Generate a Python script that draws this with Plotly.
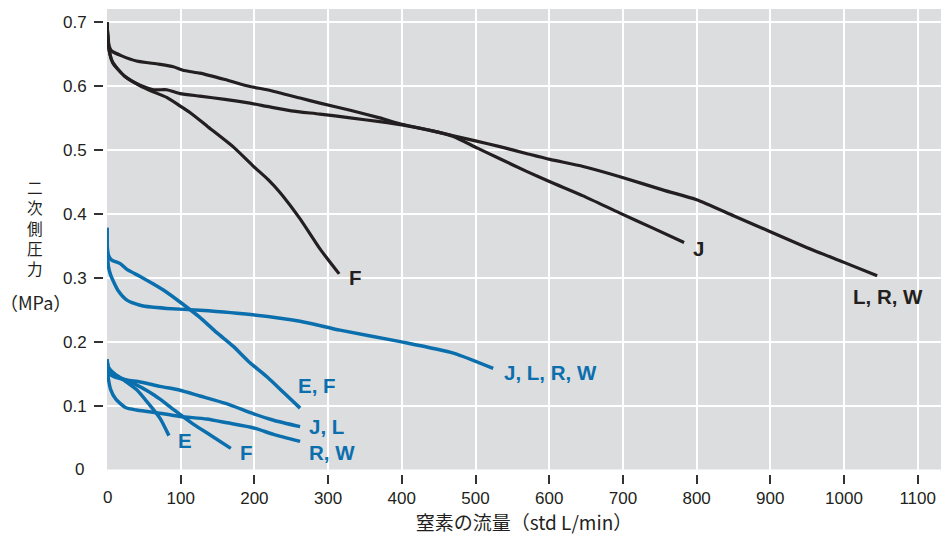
import plotly.graph_objects as go

# ---------------- data ----------------
# black curves (higher pressure setting)
blk_F_x = [0, 1, 3, 8, 24, 45, 60, 81, 100, 113, 136, 171, 198, 220, 235, 262, 289, 315]
blk_F_y = [0.700, 0.680, 0.655, 0.636, 0.615, 0.600, 0.592, 0.582, 0.568, 0.558, 0.537, 0.505, 0.475, 0.452, 0.433, 0.392, 0.345, 0.306]

blk_J_x = [0, 1, 3, 8, 24, 45, 63, 81, 99, 126, 160, 194, 217, 250, 289, 330, 370, 400, 440, 470, 502, 533, 570, 601, 646, 696, 740, 783]
blk_J_y = [0.700, 0.680, 0.655, 0.636, 0.615, 0.601, 0.594, 0.594, 0.588, 0.584, 0.579, 0.573, 0.568, 0.561, 0.556, 0.550, 0.544, 0.539, 0.530, 0.521, 0.503, 0.486, 0.466, 0.450, 0.428, 0.401, 0.378, 0.355]

blk_LRW_x = [0, 1, 3, 6, 20, 40, 70, 90, 105, 126, 160, 194, 217, 262, 289, 330, 370, 400, 440, 470, 500, 533, 570, 601, 646, 696, 755, 800, 850, 900, 950, 1000, 1045]
blk_LRW_y = [0.700, 0.680, 0.662, 0.655, 0.647, 0.639, 0.634, 0.630, 0.624, 0.620, 0.610, 0.599, 0.594, 0.581, 0.573, 0.562, 0.550, 0.540, 0.530, 0.522, 0.514, 0.505, 0.494, 0.485, 0.474, 0.458, 0.437, 0.422, 0.397, 0.372, 0.347, 0.324, 0.303]

# blue curves, upper group
blu_EF_hi_x = [0, 0.5, 2, 6, 18, 27, 45, 63, 80, 99, 126, 149, 171, 194, 217, 240, 262]
blu_EF_hi_y = [0.378, 0.345, 0.335, 0.328, 0.322, 0.313, 0.302, 0.290, 0.278, 0.262, 0.238, 0.214, 0.193, 0.167, 0.145, 0.120, 0.096]

blu_JLRW_hi_x = [0, 0.5, 2, 5, 8, 15, 27, 45, 60, 81, 126, 198, 262, 316, 398, 470, 524]
blu_JLRW_hi_y = [0.378, 0.345, 0.317, 0.304, 0.296, 0.280, 0.265, 0.257, 0.254, 0.252, 0.249, 0.242, 0.232, 0.218, 0.200, 0.182, 0.158]

# blue curves, lower group
blu_E_x = [0, 2, 10, 25, 40, 55, 72, 84]
blu_E_y = [0.172, 0.160, 0.150, 0.138, 0.125, 0.105, 0.080, 0.053]

blu_F_x = [0, 3, 15, 35, 58, 72, 90, 117, 140, 168]
blu_F_y = [0.172, 0.155, 0.145, 0.135, 0.121, 0.110, 0.094, 0.071, 0.054, 0.033]

blu_JL_x = [0, 2, 10, 27, 45, 72, 99, 126, 162, 199, 226, 262]
blu_JL_y = [0.172, 0.150, 0.145, 0.140, 0.137, 0.130, 0.124, 0.115, 0.103, 0.087, 0.077, 0.067]

blu_RW_x = [0, 1, 5, 12, 25, 40, 60, 99, 135, 163, 199, 226, 262]
blu_RW_y = [0.172, 0.150, 0.125, 0.110, 0.097, 0.093, 0.090, 0.083, 0.079, 0.073, 0.065, 0.055, 0.044]

# curve labels: text, x, y, colour group
label_text = ["F", "J", "L, R, W", "J, L, R, W", "E, F", "J, L", "R, W", "E", "F"]
label_x = [326, 792, 1009, 536, 257, 272, 272, 93, 178]
label_y = [0.301, 0.345, 0.271, 0.151, 0.131, 0.0665, 0.027, 0.045, 0.026]
label_grp = ["k", "k", "k", "b", "b", "b", "b", "b", "b"]

# ticks (the reference has no tick mark at the origin; its shared "0" labels are added separately)
x_tick_vals = list(range(100, 1101, 100))
y_tick_vals = [0.1, 0.2, 0.3, 0.4, 0.5, 0.6, 0.7]
y_tick_text = ["0.1", "0.2", "0.3", "0.4", "0.5", "0.6", "0.7"]
origin_label = "0"

x_title = "窒素の流量（std L/min）"
y_title_chars = ["二", "次", "側", "圧", "力"]
y_title_unit = "（MPa）"

# ---------------- styling ----------------
BLACK = "#231f20"
BLUE = "#0b6fae"
TICK = "#333333"
FONT = "Liberation Sans, Arial, sans-serif"
CJK = "Noto Sans CJK JP, sans-serif"

W, H = 941, 537
ML, MR, MT, MB = 103, 0, 9, 63
PW, PH = W - ML - MR, H - MT - MB
x_dom0 = 4 / PW
y_dom0 = 4.5 / PH
XR = [0, 1131.6]
YR = [0, 0.7203]

fig = go.Figure()

black_series = [(blk_F_x, blk_F_y), (blk_J_x, blk_J_y), (blk_LRW_x, blk_LRW_y)]
blue_series = [(blu_EF_hi_x, blu_EF_hi_y), (blu_JLRW_hi_x, blu_JLRW_hi_y),
               (blu_E_x, blu_E_y), (blu_F_x, blu_F_y), (blu_JL_x, blu_JL_y), (blu_RW_x, blu_RW_y)]

for xs, ys in blue_series:
    fig.add_trace(go.Scatter(x=xs, y=ys, mode="lines", line=dict(color=BLUE, width=3.5, shape="spline", smoothing=0.6),
                             showlegend=False, hoverinfo="skip"))
for xs, ys in black_series:
    fig.add_trace(go.Scatter(x=xs, y=ys, mode="lines", line=dict(color=BLACK, width=3.2, shape="spline", smoothing=0.6),
                             showlegend=False, hoverinfo="skip"))

for t, x, y, g in zip(label_text, label_x, label_y, label_grp):
    fig.add_annotation(x=x, y=y, xref="x", yref="y", text="<b>%s</b>" % t, showarrow=False,
                       xanchor="left", yanchor="middle",
                       font=dict(family=FONT, size=20.5, color=BLACK if g == "k" else BLUE))

axis_font = dict(family=FONT, size=17, color=BLACK)

# origin "0" labels for both axes (no tick mark there, as in the reference)
fig.add_annotation(x=XR[0], y=0, xref="x", yref="paper", text=origin_label, showarrow=False,
                   xanchor="center", yanchor="middle", yshift=-23, font=axis_font)
fig.add_annotation(x=0, y=YR[0], xref="paper", yref="y", text=origin_label, showarrow=False,
                   xanchor="right", yanchor="middle", xshift=-17, font=axis_font)

# y-axis title: stacked characters, then unit
fig.add_annotation(x=(35 - ML) / PW, y=(H - MB - 227.6) / PH, xref="paper", yref="paper",
                   text="<br>".join(y_title_chars), showarrow=False, xanchor="center", yanchor="middle",
                   align="center", font=dict(family=CJK, size=15.6, color=BLACK))
fig.add_annotation(x=(35 - ML) / PW, y=(H - MB - 302) / PH, xref="paper", yref="paper",
                   text=y_title_unit, showarrow=False, xanchor="center", yanchor="middle",
                   font=dict(family=CJK, size=18, color=BLACK))

fig.update_layout(
    width=W, height=H,
    margin=dict(l=ML, r=MR, t=MT, b=MB, pad=0),
    paper_bgcolor="white",
    plot_bgcolor="#dcdddf",
    xaxis=dict(domain=[x_dom0, 1], range=XR, anchor="free", position=0,
               tickmode="array", tickvals=x_tick_vals, ticks="outside", ticklen=9,
               tickwidth=1.5, tickcolor=TICK, tickfont=axis_font,
               showgrid=True, gridcolor="white", gridwidth=1.5, zeroline=False,
               showline=False, fixedrange=True,
               title=dict(text=x_title, font=dict(family=CJK, size=19, color=BLACK), standoff=5)),
    yaxis=dict(domain=[y_dom0, 1], range=YR, anchor="free", position=0,
               tickmode="array", tickvals=y_tick_vals, ticktext=y_tick_text,
               ticks="outside", ticklen=9, tickwidth=1.5, tickcolor=TICK,
               tickfont=axis_font, ticklabelstandoff=4,
               showgrid=True, gridcolor="white", gridwidth=1.5, zeroline=False,
               showline=False, fixedrange=True),
)

fig.write_html("out.html")
